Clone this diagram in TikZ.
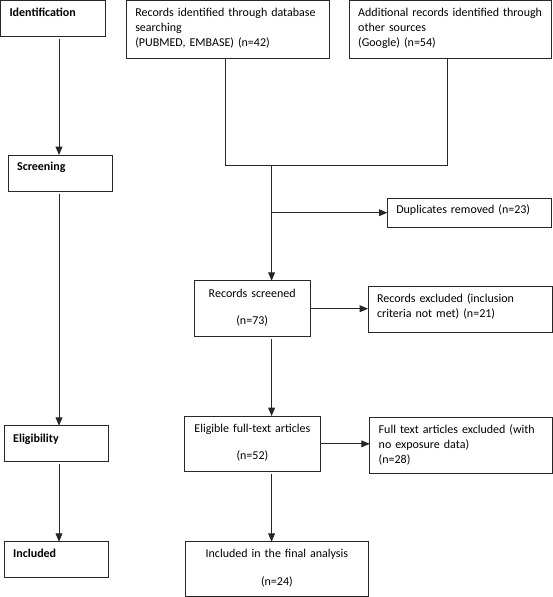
\documentclass[tikz,border=0pt]{standalone}
\usepackage{fontspec}
\setmainfont{Carlito}
\usetikzlibrary{arrows}
\tikzset{
  box/.style = {draw=black!85, line width=0.9pt, anchor=north west,
    outer sep=0pt, inner ysep=0pt, inner xsep=9pt, align=left,
    font=\fontsize{12}{15}\selectfont},% box with text at the top
  stage/.style = {box, font=\fontsize{12}{15}\selectfont\bfseries},% left column
  cbox/.style = {box, align=center},% centred text
  flow/.style = {draw=black!85, line width=0.9pt}
}

\begin{document}
\begin{tikzpicture}[x=1pt,y=-1pt,>=triangle 45]
\useasboundingbox (0,0) rectangle (553,597);
% stages
\node [stage, text width=87pt, text height=16pt, text depth=20.2pt] (ident) at (0.5,0.5) {Identification};
\node [stage, text width=86.8pt, text height=15.6pt, text depth=21.1pt] (screen) at (8.1,155) {Screening};
\node [stage, text width=86.4pt, text height=16.5pt, text depth=19.5pt] (elig) at (4.2,425.7) {Eligibility};
\node [stage, text width=86.4pt, text height=15.5pt, text depth=20.5pt] (incl) at (4.2,541.7) {Included};
% records
\node [box, text width=185.5pt, text height=16pt, text depth=42.2pt] (db) at (126.3,0.5)
  {Records identified through database\\ searching\\ (PUBMED, EMBASE) (n=42)};
\node [box, text width=184.6pt, text height=16pt, text depth=42pt] (add) at (349.2,0.5)
  {Additional records identified through\\ other sources\\ (Google) (n=54)};
\node [box, text width=146.6pt, text height=15.6pt, text depth=13.4pt] (dup) at (387.3,198.3)
  {Duplicates removed (n=23)};
\node [cbox, text width=98.4pt, text height=16.5pt, text depth=39.5pt] (rs) at (194,280.7)
  {Records screened\\[12.4pt] (n=73)};
\node [box, text width=166pt, text height=15.5pt, text depth=30.5pt] (excl) at (368,286.7)
  {Records excluded (inclusion\\ criteria not met) (n=21)};
\node [cbox, text width=117.8pt, text height=16.2pt, text depth=39.5pt] (eligible) at (184.5,416)
  {Eligible full-text articles\\[12.7pt] (n=52)};
\node [box, text width=164.3pt, text height=16.6pt, text depth=39.4pt] (ftexcl) at (369.7,417.3)
  {Full text articles excluded (with\\ no exposure data)\\ (n=28)};
\node [cbox, text width=165.4pt, text height=16.2pt, text depth=38.8pt] (final) at (185.2,541.7)
  {Included in the final analysis\\[12.7pt] (n=24)};
% columns
\coordinate (lcol) at (59,0);
\coordinate (ccol) at (271.6,0);
\coordinate (dbdrop) at (225,165);
\coordinate (adddrop) at (447.3,165);
\coordinate (join) at (271.6,165);
\coordinate (branch) at (271.6,212.7);
% left column arrows
\draw [flow,->,shorten <=2.6pt] (ident.south -| lcol) -- (screen.north -| lcol);
\draw [flow,->,shorten <=2.6pt] (screen.south -| lcol) -- (elig.north -| lcol);
\draw [flow,->,shorten <=2.6pt] (elig.south -| lcol) -- (incl.north -| lcol);
% flow
\draw [flow] (db.south -| dbdrop) -- (dbdrop) -- (adddrop) -- (add.south -| adddrop);
\draw [flow,->] (join) -- (rs.north -| join);
\draw [flow,->] (branch) -- (dup.west |- branch);
\draw [flow,->] (rs.east) -- (rs.east -| excl.west);
\draw [flow,->,shorten <=2.6pt] (rs.south -| ccol) -- (eligible.north -| ccol);
\draw [flow,->] (eligible.east) -- (eligible.east -| ftexcl.west);
\draw [flow,->,shorten <=2.6pt] (eligible.south -| ccol) -- (final.north -| ccol);
\end{tikzpicture}
\end{document}
